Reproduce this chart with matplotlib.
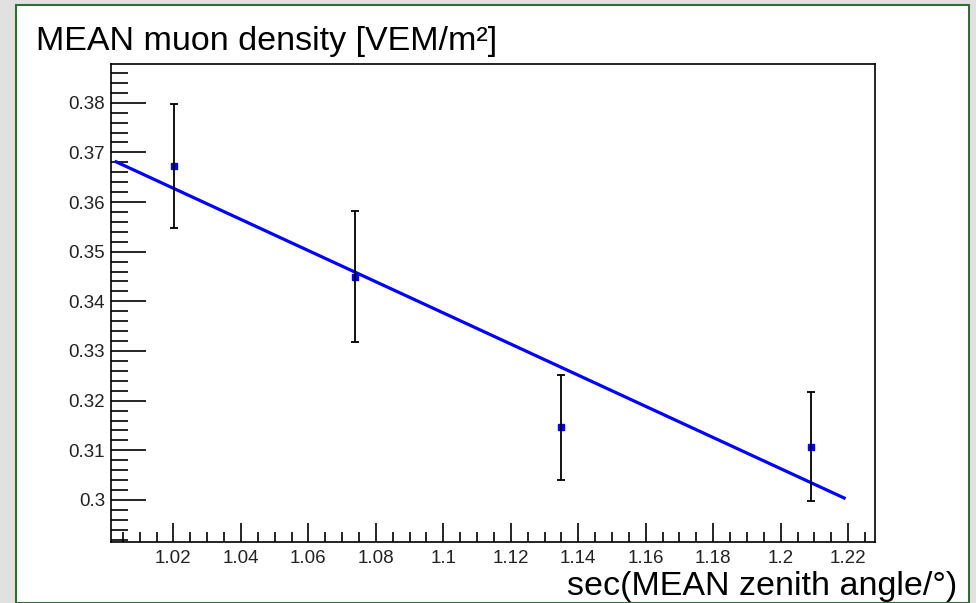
import matplotlib.pyplot as plt
from matplotlib.patches import Rectangle
from matplotlib.ticker import MultipleLocator, FuncFormatter

plt.rcParams['font.family'] = ['Liberation Sans', 'DejaVu Sans']

# points
sec_zenith = [1.0203, 1.0738, 1.1349, 1.2089]
muon_density = [0.3673, 0.3450, 0.3146, 0.3107]
density_err = [0.0125, 0.0131, 0.0106, 0.0110]

# fitted line (end points)
fit_x = [1.003, 1.2188]
fit_y = [0.3681, 0.3004]


def fmt(v, pos):
    s = f"{v:.2f}".rstrip('0').rstrip('.')
    return s


fig = plt.figure(figsize=(9.76, 6.03), dpi=100)
fig.patch.set_facecolor('#e1e1e1')
# white canvas with green frame
fig.patches.append(Rectangle((16 / 976, 0.5 / 603), 953 / 976, 598 / 603,
                             transform=fig.transFigure, facecolor='white',
                             edgecolor='#2f6f34', linewidth=1.5, zorder=-1))

ax = fig.add_axes([0.1134, 0.1017, 0.7836, 0.7922])
ax.set_zorder(2)
ax.plot(fit_x, fit_y, color='#0000ff', linewidth=2.3, zorder=2)
ax.plot(sec_zenith, muon_density, 's', color='#0000ff', markersize=4.5, zorder=3)
ax.errorbar(sec_zenith, muon_density, yerr=density_err, fmt='none',
            ecolor='black', elinewidth=1.3, capsize=3, capthick=1.3, zorder=4)

ax.set_xlim(1.0014, 1.2281)
ax.set_ylim(0.2916, 0.3878)

ax.xaxis.set_major_locator(MultipleLocator(0.02))
ax.xaxis.set_minor_locator(MultipleLocator(0.005))
ax.yaxis.set_major_locator(MultipleLocator(0.01))
ax.yaxis.set_minor_locator(MultipleLocator(0.002))
ax.xaxis.set_major_formatter(FuncFormatter(fmt))
ax.yaxis.set_major_formatter(FuncFormatter(fmt))

ax.tick_params(axis='both', which='both', direction='in', color='black',
               labelsize=13.5, labelcolor='#222222', width=1.2)
ax.tick_params(axis='y', which='major', length=25, pad=4)
ax.tick_params(axis='y', which='minor', length=12)
ax.tick_params(axis='x', which='major', length=14, pad=6)
ax.tick_params(axis='x', which='minor', length=7)

for s in ax.spines.values():
    s.set_linewidth(1.2)

fig.text(36 / 976, 1 - 50 / 603, 'MEAN muon density [VEM/m²]', fontsize=24.5,
         ha='left', va='baseline')
fig.text(957 / 976, 1 - 595 / 603, 'sec(MEAN zenith angle/°)', fontsize=24.5,
         ha='right', va='baseline')

fig.savefig('out.png', dpi=100, facecolor=fig.get_facecolor())
